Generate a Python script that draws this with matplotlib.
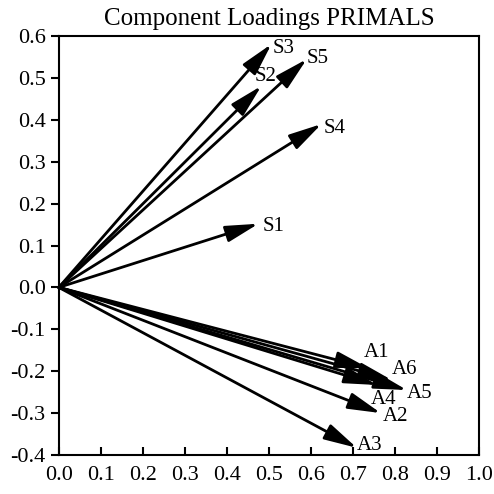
import matplotlib
matplotlib.use("Agg")
import matplotlib.pyplot as plt

labels = ["S1", "S2", "S3", "S4", "S5", "A1", "A2", "A3", "A4", "A5", "A6"]
dim1 = [0.475, 0.482, 0.506, 0.625, 0.590, 0.737, 0.766, 0.709, 0.757, 0.828, 0.792]
dim2 = [0.152, 0.481, 0.581, 0.390, 0.545, -0.193, -0.300, -0.383, -0.233, -0.245, -0.221]

# label offsets in pixels (dx, dy up) from arrow tip
offsets = {"S1": (15, -3), "S2": (4, 9), "S3": (12, -4), "S4": (13, -4), "S5": (11, 1),
           "A1": (8, 16), "A6": (13, 10), "A5": (13, -3), "A4": (7, -14),
           "A2": (15, -3), "A3": (13, 2)}

plt.rcParams['font.family'] = ['Liberation Serif', 'DejaVu Serif']

fig = plt.figure(figsize=(4.94, 4.94), dpi=100)
ax = fig.add_axes([0.119, 0.079, 0.851, 0.848])

for lab, x, y in zip(labels, dim1, dim2):
    ax.annotate('', xy=(x, y), xytext=(0, 0),
                arrowprops=dict(arrowstyle='-|>,head_length=1.0,head_width=0.25',
                                mutation_scale=20, color='black', lw=2,
                                shrinkA=0, shrinkB=0))
    dx, dy = offsets[lab]
    ax.annotate(lab, xy=(x, y), xytext=(dx, dy), textcoords='offset pixels',
                ha='center', va='center', fontsize=15)

ax.set_xlim(0, 1.0)
ax.set_ylim(-0.4, 0.6)
ax.set_xticks([i / 10 for i in range(11)])
ax.set_yticks([i / 10 for i in range(-4, 7)])
ax.set_xticklabels([f"{i/10:.1f}" for i in range(11)])
ax.set_yticklabels([f"{i/10:.1f}" for i in range(-4, 7)])
ax.tick_params(axis='x', direction='in', length=6, width=1.5, labelsize=16, pad=8)
ax.tick_params(axis='y', direction='out', length=6, width=1.5, labelsize=16)
for s in ax.spines.values():
    s.set_linewidth(1.5)
ax.set_title("Component Loadings PRIMALS", fontsize=18, pad=8)

fig.savefig("out.png", dpi=100)
